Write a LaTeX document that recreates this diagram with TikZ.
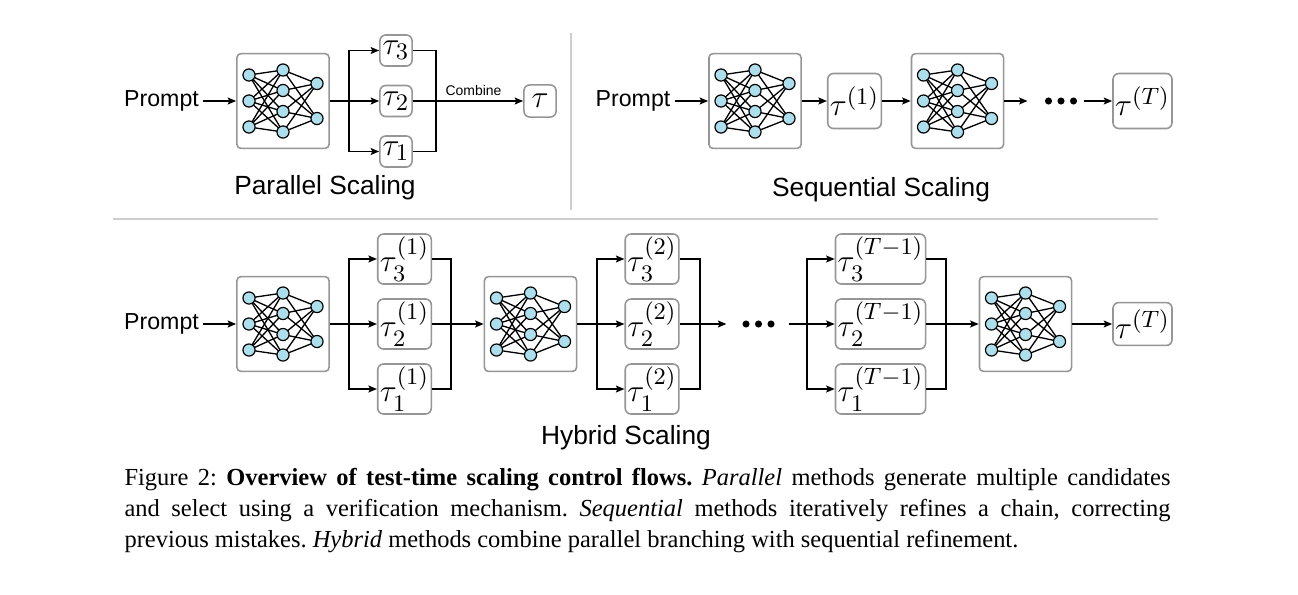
\documentclass[tikz,border=0pt]{standalone}
\usepackage[no-math]{fontspec}
\usepackage{amsmath}
\usepackage{xcolor}
\setmainfont{Liberation Serif}
\newfontfamily\labelsans{Liberation Sans}
\usetikzlibrary{arrows.meta}
\DeclareMathSizes{12}{12}{9}{7}
\definecolor{boxgray}{RGB}{150,150,150}
\definecolor{neuroncolor}{RGB}{172,222,236}
\definecolor{sepgray}{RGB}{205,205,205}

\tikzset{
  netbox/.style={draw=boxgray, line width=0.6pt, rounded corners=1.5pt, fill=white,
    minimum width=35pt, minimum height=36pt, inner sep=0pt},
  neuron/.style={draw=black, line width=0.45pt, fill=neuroncolor},
  synapse/.style={line width=0.5pt},
  network/.pic={
    \foreach \ya in {-26,0,26}
      \foreach \yb in {-31,-10.5,10.5,31}
        \draw[synapse] (-34,\ya) -- (0,\yb);
    \foreach \yb in {-31,-10.5,10.5,31}
      \foreach \yc in {-17.5,17.5}
        \draw[synapse] (0,\yb) -- (34,\yc);
    \foreach \ya in {-26,0,26} \draw[neuron] (-34,\ya) circle[radius=2.3pt];
    \foreach \yb in {-31,-10.5,10.5,31} \draw[neuron] (0,\yb) circle[radius=2.3pt];
    \foreach \yc in {-17.5,17.5} \draw[neuron] (34,\yc) circle[radius=2.3pt];
  },
  taubox/.style={draw=boxgray, line width=0.6pt, rounded corners=2.2pt, inner sep=0.8pt,
    font=\fontsize{12}{14}\selectfont},
  taupar/.style={taubox, minimum width=12.2pt, minimum height=11.8pt},
  tauseq/.style={taubox, minimum width=18.6pt, minimum height=20.9pt},
  tauhyb/.style={taubox, minimum width=19.4pt, minimum height=19pt},
  tauwide/.style={taubox, minimum width=33pt, minimum height=19pt},
  tauend/.style={taubox, minimum width=19.4pt, minimum height=16.3pt},
  ellipsisnode/.style={minimum width=14pt, minimum height=4pt, inner sep=0pt,
    path picture={\foreach \i in {-1,0,1}
      \fill ([xshift=\i*4.75pt]path picture bounding box.center) circle[radius=1.35pt];}},
  conn/.style={line width=0.75pt, -{Stealth[length=3.2pt, width=2.6pt, inset=0.6pt]}},
  wire/.style={line width=0.75pt},
  promptlabel/.style={font=\labelsans\fontsize{8.8}{10}\selectfont, inner sep=1.5pt},
  scalelabel/.style={font=\labelsans\fontsize{10}{12}\selectfont, inner sep=0pt},
  combinelabel/.style={font=\labelsans\fontsize{5.3}{6}\selectfont, inner sep=1.5pt},
  sepline/.style={draw=sepgray, line width=0.4pt},
  capnode/.style={text width=397.5pt, align=justify, inner sep=0pt,
    font=\fontsize{9.3}{11.8}\selectfont\frenchspacing}
}

\begin{document}
\begin{tikzpicture}[x=0.38pt, y=-0.38pt]
  \useasboundingbox[fill=white] (0,0) rectangle (1298,594);

  % network boxes
  \foreach \n/\x/\y in {net1/283/101, net2/755/101, net3/957.5/101,
                        net4/283/324, net5/530.5/324, net6/1025.5/324} {
    \node[netbox] (\n) at (\x,\y) {};
    \pic at (\n) {network};
  }

  % parallel scaling
  \node[promptlabel] (prompt1) at (161.5,101) {Prompt};
  \node[taupar] (par3) at (396,50.5) {$\tau_3$};
  \node[taupar] (par2) at (396,101) {$\tau_2$};
  \node[taupar] (par1) at (396,151.5) {$\tau_1$};
  \node[taupar, minimum height=12.2pt] (parout) at (540,101) {$\tau$};
  \coordinate (split1) at (349,101);
  \coordinate (merge1) at (436,101);
  \draw[conn] (prompt1) -- (net1);
  \draw[conn] (net1) -- (par2);
  \draw[conn] (split1) |- (par3);
  \draw[conn] (split1) |- (par1);
  \draw[wire] (par3) -| (merge1);
  \draw[wire] (par1) -| (merge1);
  \draw[conn] (par2) -- node[combinelabel, pos=0.55, above] (combine) {Combine} (parout);
  \node[scalelabel] (partitle) at (325,188) {Parallel Scaling};

  % sequential scaling
  \node[promptlabel] (prompt2) at (633,101) {Prompt};
  \node[tauseq] (seq1) at (854.5,101) {$\tau^{(1)}$};
  \node[ellipsisnode] (dots1) at (1061,101) {};
  \node[tauseq] (seqT) at (1142.5,101) {$\tau^{(T)}$};
  \draw[conn] (prompt2) -- (net2);
  \draw[conn] (net2) -- (seq1);
  \draw[conn] (seq1) -- (net3);
  \draw[conn, shorten >=5.5pt] (net3) -- (dots1);
  \draw[conn, shorten <=1.4pt] (dots1) -- (seqT);
  \node[scalelabel] (seqtitle) at (881,190) {Sequential Scaling};

  % separators
  \draw[sepline] (571,33) -- (571,210);
  \draw[sepline] (113,219) -- (1158,219);

  % hybrid scaling
  \node[promptlabel] (prompt3) at (161.5,324) {Prompt};
  \node[tauhyb] (hyba3) at (404.5,259) {$\tau_3^{(1)}$};
  \node[tauhyb] (hyba2) at (404.5,324) {$\tau_2^{(1)}$};
  \node[tauhyb] (hyba1) at (404.5,389) {$\tau_1^{(1)}$};
  \node[tauhyb] (hybb3) at (652,259) {$\tau_3^{(2)}$};
  \node[tauhyb] (hybb2) at (652,324) {$\tau_2^{(2)}$};
  \node[tauhyb] (hybb1) at (652,389) {$\tau_1^{(2)}$};
  \node[ellipsisnode] (dots2) at (758.5,324) {};
  \node[tauwide] (hybc3) at (880.5,259) {$\tau_3^{(T-1)}$};
  \node[tauwide] (hybc2) at (880.5,324) {$\tau_2^{(T-1)}$};
  \node[tauwide] (hybc1) at (880.5,389) {$\tau_1^{(T-1)}$};
  \node[tauend] (hybT) at (1142.5,324) {$\tau^{(T)}$};
  \coordinate (split2) at (349,324);
  \coordinate (merge2) at (451,324);
  \coordinate (split3) at (597,324);
  \coordinate (merge3) at (700,324);
  \coordinate (split4) at (807,324);
  \coordinate (merge4) at (946,324);
  \draw[conn] (prompt3) -- (net4);
  \draw[conn] (net4) -- (hyba2);
  \draw[conn] (split2) |- (hyba3);
  \draw[conn] (split2) |- (hyba1);
  \draw[wire] (hyba3) -| (merge2);
  \draw[wire] (hyba1) -| (merge2);
  \draw[conn] (hyba2) -- (net5);
  \draw[conn] (net5) -- (hybb2);
  \draw[conn] (split3) |- (hybb3);
  \draw[conn] (split3) |- (hybb1);
  \draw[wire] (hybb3) -| (merge3);
  \draw[wire] (hybb1) -| (merge3);
  \draw[conn, shorten >=5pt] (hybb2) -- (dots2);
  \draw[conn, shorten <=4.2pt] (dots2) -- (hybc2);
  \draw[conn] (split4) |- (hybc3);
  \draw[conn] (split4) |- (hybc1);
  \draw[wire] (hybc3) -| (merge4);
  \draw[wire] (hybc1) -| (merge4);
  \draw[conn] (hybc2) -- (net6);
  \draw[conn] (net6) -- (hybT);
  \node[scalelabel] (hybtitle) at (626,438) {Hybrid Scaling};

  % caption
  \node[capnode, anchor=north west] (caption) at (124,468) {Figure 2: \textbf{Overview of test-time scaling control flows.} \textit{Parallel} methods generate multiple candidates\linebreak and select using a verification mechanism. \textit{Sequential} methods iteratively refines a chain, correcting\linebreak previous mistakes. \textit{Hybrid} methods combine parallel branching with sequential refinement.};
\end{tikzpicture}
\end{document}
